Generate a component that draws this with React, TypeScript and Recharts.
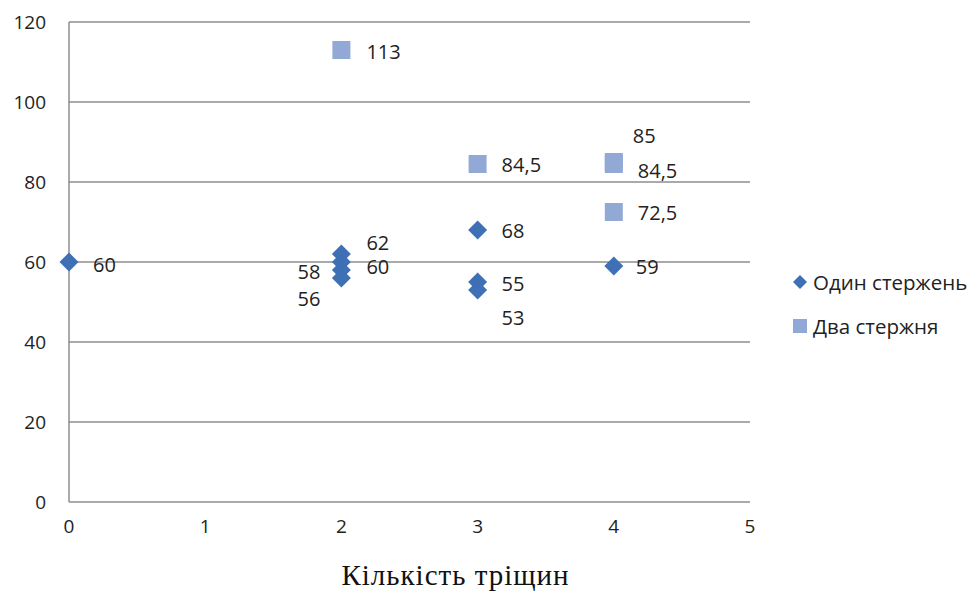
import { CartesianGrid, Label, Legend, Scatter, ScatterChart, XAxis, YAxis } from "recharts";

const xTicks = [0, 1, 2, 3, 4, 5];
const yTicks = [0, 20, 40, 60, 80, 100, 120];

const seriesNames = ["Один стержень", "Два стержня"];

// Один стержень
const oneRodCracks = [0, 2, 2, 2, 2, 3, 3, 3, 4];
const oneRodValues = [60, 62, 60, 58, 56, 68, 55, 53, 59];

// Два стержня
const twoRodCracks = [2, 3, 4, 4, 4];
const twoRodValues = [113, 84.5, 85, 84.5, 72.5];

const oneRodData = oneRodCracks.map((x, i) => ({ x, y: oneRodValues[i], i }));
const twoRodData = twoRodCracks.map((x, i) => ({ x, y: twoRodValues[i], i }));

// label placement per point: [dx, dy, anchor]
type Place = [number, number, "start" | "end"];
const oneRodLabelPlace: Place[] = [
  [24, 2, "start"],
  [25, -12, "start"],
  [25, 4, "start"],
  [-21, 1, "end"],
  [-21, 20, "end"],
  [24, 0, "start"],
  [24, 1, "start"],
  [24, 27, "start"],
  [22, 0, "start"],
];
const twoRodLabelPlace: Place[] = [
  [25, 1, "start"],
  [24, 0, "start"],
  [19, -27, "start"],
  [24, 6, "start"],
  [24, 0, "start"],
];

const DIAMOND = "#3F6FB5";
const SQUARE = "#93A9D5";
const GRID = "#8E8E8E";
const FONT = "'Open Sans', sans-serif";

const fmt = (v: number) => String(v).replace(".", ",");

function pointLabel(cx: number, cy: number, value: number, place: Place) {
  const [dx, dy, anchor] = place;
  return (
    <text
      x={cx + dx}
      y={cy + dy}
      textAnchor={anchor}
      dominantBaseline="central"
      fontFamily={FONT}
      fontSize={20}
      fill="#222"
    >
      {fmt(value)}
    </text>
  );
}

function DiamondPoint(props: any) {
  const { cx, cy, payload } = props;
  const r = 9.5;
  return (
    <g>
      <polygon
        points={`${cx},${cy - r} ${cx + r},${cy} ${cx},${cy + r} ${cx - r},${cy}`}
        fill={DIAMOND}
      />
      {pointLabel(cx, cy, payload.y, oneRodLabelPlace[payload.i])}
    </g>
  );
}

function SquarePoint(props: any) {
  const { cx, cy, payload } = props;
  const s = 9;
  return (
    <g>
      <rect x={cx - s} y={cy - s} width={s * 2} height={s * 2} fill={SQUARE} />
      {pointLabel(cx, cy, payload.y, twoRodLabelPlace[payload.i])}
    </g>
  );
}

function LegendBox() {
  return (
    <div style={{ fontFamily: FONT, fontSize: 20.5, color: "#222", lineHeight: "44px" }}>
      <div style={{ display: "flex", alignItems: "center" }}>
        <svg width={21} height={16}>
          <polygon points="8,1 15,8 8,15 1,8" fill={DIAMOND} />
        </svg>
        <span>{seriesNames[0]}</span>
      </div>
      <div style={{ display: "flex", alignItems: "center" }}>
        <svg width={21} height={16}>
          <rect x={1} y={1} width={14} height={14} fill={SQUARE} />
        </svg>
        <span>{seriesNames[1]}</span>
      </div>
    </div>
  );
}

export default function App() {
  return (
    <div style={{ position: "absolute", left: 0, top: 0, width: 978, height: 592, background: "#fff" }}>
      <ScatterChart width={978} height={592} margin={{ top: 22, right: 228, bottom: 60, left: 19 }}>
        <CartesianGrid horizontal vertical={false} stroke={GRID} strokeWidth={1.5} />
        <XAxis
          type="number"
          dataKey="x"
          domain={[0, 5]}
          ticks={xTicks}
          axisLine={false}
          tickLine={false}
          tickSize={0}
          tickMargin={18}
          height={30}
          tick={{ fill: "#222", fontSize: 19, fontFamily: FONT }}
        >
          <Label
            value="Кількість тріщин"
            position="bottom"
            offset={32}
            dx={46}
            style={{ fontFamily: "'Liberation Serif', serif", fontSize: 29, letterSpacing: 1, fill: "#111" }}
          />
        </XAxis>
        <YAxis
          type="number"
          dataKey="y"
          domain={[0, 120]}
          ticks={yTicks}
          width={50}
          axisLine={{ stroke: GRID, strokeWidth: 1.5 }}
          tickLine={false}
          tickSize={0}
          tickMargin={23}
          tick={{ fill: "#222", fontSize: 19, fontFamily: FONT }}
        />
        <Legend
          layout="horizontal"
          align="center"
          verticalAlign="middle"
          content={<LegendBox />}
          wrapperStyle={{ left: 792, top: 260, width: 190 }}
        />
        <Scatter name={seriesNames[0]} data={oneRodData} shape={<DiamondPoint />} isAnimationActive={false} />
        <Scatter name={seriesNames[1]} data={twoRodData} shape={<SquarePoint />} isAnimationActive={false} />
      </ScatterChart>
    </div>
  );
}
